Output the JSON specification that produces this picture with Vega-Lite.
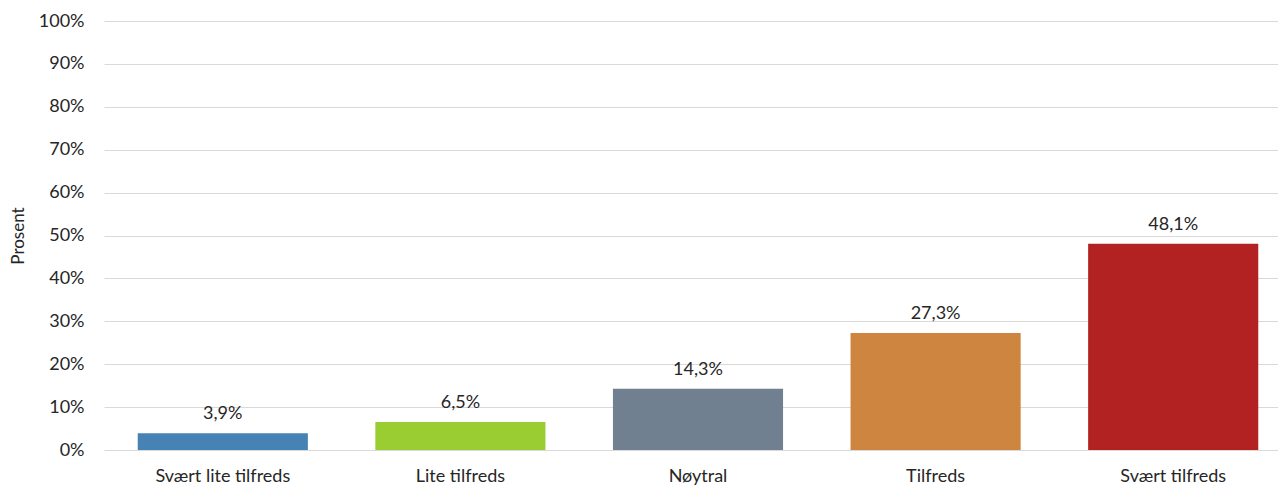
{
  "$schema": "https://vega.github.io/schema/vega-lite/v6.json",
  "autosize": "none",
  "width": 1188,
  "height": 429,
  "padding": {"left": 104, "top": 21, "right": -14, "bottom": 36},
  "config": {
    "locale": {"number": {"decimal": ",", "thousands": " ", "grouping": [3], "currency": ["", " kr"]}},
    "view": {"stroke": null},
    "font": "Lato"
  },
  "data": {
    "values": [
      {"kategori": "Svært lite tilfreds", "andel": 0.039},
      {"kategori": "Lite tilfreds", "andel": 0.065},
      {"kategori": "Nøytral", "andel": 0.143},
      {"kategori": "Tilfreds", "andel": 0.273},
      {"kategori": "Svært tilfreds", "andel": 0.481}
    ]
  },
  "encoding": {
    "x": {
      "field": "kategori",
      "type": "nominal",
      "sort": null,
      "scale": {"paddingInner": 0.284, "paddingOuter": 0.142},
      "axis": {
        "title": null,
        "labelAngle": 0,
        "labelFontSize": 18,
        "labelColor": "#262626",
        "labelPadding": 17,
        "ticks": false,
        "domain": false
      }
    },
    "y": {
      "field": "andel",
      "type": "quantitative",
      "scale": {"domain": [0, 1]},
      "axis": {
        "title": "Prosent",
        "titleFontSize": 17,
        "titleFontWeight": "normal",
        "titleColor": "#262626",
        "titlePadding": 11,
        "format": ".0%",
        "values": [0, 0.1, 0.2, 0.3, 0.4, 0.5, 0.6, 0.7, 0.8, 0.9, 1],
        "labelOverlap": false,
        "labelBound": false,
        "labelFlush": false,
        "labelFontSize": 18,
        "labelColor": "#262626",
        "labelPadding": 20,
        "ticks": false,
        "domain": false,
        "gridColor": "#d9d9d9",
        "gridWidth": 1
      }
    }
  },
  "layer": [
    {
      "mark": {"type": "bar"},
      "encoding": {
        "color": {
          "field": "kategori",
          "type": "nominal",
          "legend": null,
          "scale": {
            "domain": ["Svært lite tilfreds", "Lite tilfreds", "Nøytral", "Tilfreds", "Svært tilfreds"],
            "range": ["#4682b4", "#9acd32", "#708090", "#cd853f", "#b22222"]
          }
        }
      }
    },
    {
      "mark": {"type": "text", "baseline": "alphabetic", "dy": -14, "fontSize": 18, "color": "#262626"},
      "encoding": {
        "text": {"field": "andel", "type": "quantitative", "format": ".1%"}
      }
    }
  ]
}
